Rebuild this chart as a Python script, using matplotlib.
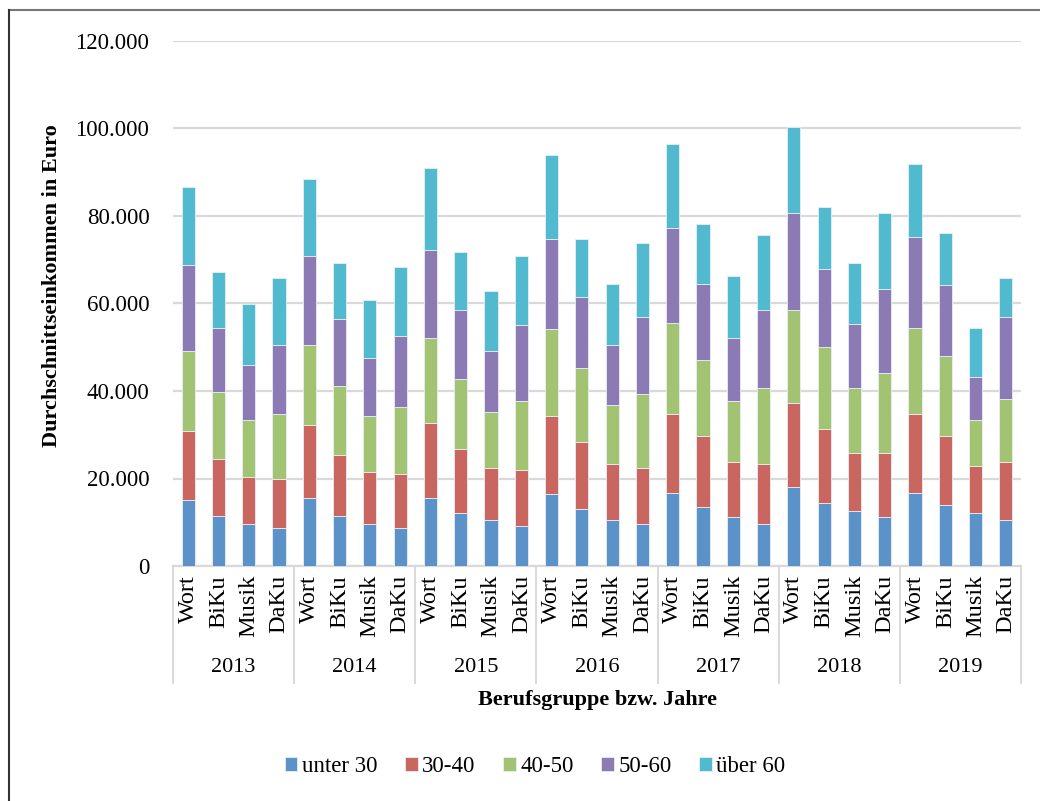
import numpy as np
import matplotlib
matplotlib.use('Agg')
import matplotlib.pyplot as plt
from matplotlib.lines import Line2D
from matplotlib.ticker import FuncFormatter
import matplotlib.transforms as mtransforms

plt.rcParams['font.family'] = ['Liberation Serif', 'DejaVu Serif']

years = ['2013', '2014', '2015', '2016', '2017', '2018', '2019']
groups = ['Wort', 'BiKu', 'Musik', 'DaKu']
series = ['unter 30', '30-40', '40-50', '50-60', 'über 60']

# one row per year, one column per Berufsgruppe
unter_30 = [[15100, 11500, 9600, 8600],
            [15600, 11500, 9600, 8600],
            [15600, 12100, 10600, 9200],
            [16500, 13000, 10600, 9600],
            [16600, 13500, 11100, 9600],
            [18000, 14500, 12500, 11100],
            [16600, 14000, 12100, 10600]]
age_30_40 = [[15700, 12900, 10800, 11300],
             [16700, 13900, 11900, 12400],
             [17100, 14700, 11800, 12700],
             [17800, 15400, 12700, 12800],
             [18200, 16300, 12700, 13700],
             [19200, 16800, 13300, 14700],
             [18200, 15800, 10800, 13200]]
age_40_50 = [[18400, 15300, 12900, 14900],
             [18200, 15800, 12800, 15300],
             [19400, 15900, 12900, 15800],
             [19800, 16800, 13500, 16800],
             [20800, 17300, 13900, 17400],
             [21300, 18700, 14900, 18300],
             [19700, 18300, 10400, 14400]]
age_50_60 = [[19600, 14800, 12700, 15700],
             [20300, 15200, 13300, 16200],
             [20100, 15700, 13800, 17300],
             [20700, 16200, 13700, 17800],
             [21600, 17300, 14300, 17700],
             [22100, 17800, 14700, 19200],
             [20700, 16200, 9800, 18800]]
ueber_60 = [[17800, 12800, 13900, 15400],
            [17700, 12900, 13300, 15900],
            [18800, 13400, 13700, 15800],
            [19200, 13400, 13900, 16800],
            [19300, 13800, 14300, 17300],
            [19700, 14300, 13800, 17300],
            [16700, 11800, 11300, 8900]]

colors = ['#5B93C9', '#C9665F', '#A2C372', '#8B7AB3', '#51BACF']

fig = plt.figure(figsize=(10.4, 8.01), dpi=100)
ax = fig.add_axes([173/1040, 1 - 566/801, 848/1040, 525/801])

x = np.arange(len(years) * len(groups))
bottom = np.zeros(len(x))
for name, data, color in zip(series,
                             [unter_30, age_30_40, age_40_50, age_50_60, ueber_60],
                             colors):
    vals = np.array(data, dtype=float).ravel()
    ax.bar(x, vals, width=0.43, bottom=bottom, color=color,
           edgecolor='#e8eef5', linewidth=0.6, label=name, zorder=3)
    bottom += vals

ax.set_xlim(-0.5, len(x) - 0.5)
ax.set_ylim(0, 120000)
ax.set_yticks(np.arange(0, 120001, 20000))
ax.yaxis.set_major_formatter(FuncFormatter(lambda v, p: f'{int(v):,}'.replace(',', '.')))
ax.tick_params(axis='y', length=0, pad=17, labelsize=16.5)
ax.set_xticks([])
ax.grid(axis='y', color='#d9d9d9', linewidth=1.6, zorder=0)
for s in ['left', 'right', 'top']:
    ax.spines[s].set_visible(False)
ax.spines['bottom'].set_color('#d9d9d9')
ax.spines['bottom'].set_linewidth(1.6)

# multi-level category axis
trans = mtransforms.blended_transform_factory(ax.transData, ax.transAxes)
for i, xi in enumerate(x):
    ax.text(xi, -0.017, groups[i % len(groups)], rotation=90, ha='center', va='top',
            fontsize=17.5, transform=trans)
for j, yr in enumerate(years):
    ax.text(j * 4 + 1.5, -0.194, yr, ha='center', va='center', fontsize=16,
            transform=trans)
for b in np.arange(-0.5, len(x), 4):
    ax.plot([b, b], [0, -0.223], color='#d9d9d9', linewidth=1.4,
            transform=trans, clip_on=False)

ax.text(0.5, -0.255, 'Berufsgruppe bzw. Jahre', ha='center', va='center',
        fontsize=16, fontweight='bold', transform=ax.transAxes)
fig.text(52/1040, 1 - 286/801, 'Durchschnittseinkommen in Euro', rotation=90,
         ha='center', va='center', fontsize=16, fontweight='bold')

fig.legend(loc='center', bbox_to_anchor=(535/1040, 1 - 767/801), ncol=5,
           frameon=False, fontsize=16.5, handlelength=0.55, handleheight=0.55,
           handletextpad=0.2, columnspacing=1.2)

# frame of the cropped chart area
fig.add_artist(Line2D([9/1040, 1], [1 - 10/801, 1 - 10/801], color='#777777',
                      linewidth=1.5, transform=fig.transFigure))
fig.add_artist(Line2D([9/1040, 9/1040], [0, 1 - 10/801], color='#333333',
                      linewidth=1.5, transform=fig.transFigure))

fig.savefig('out.png', dpi=100)
